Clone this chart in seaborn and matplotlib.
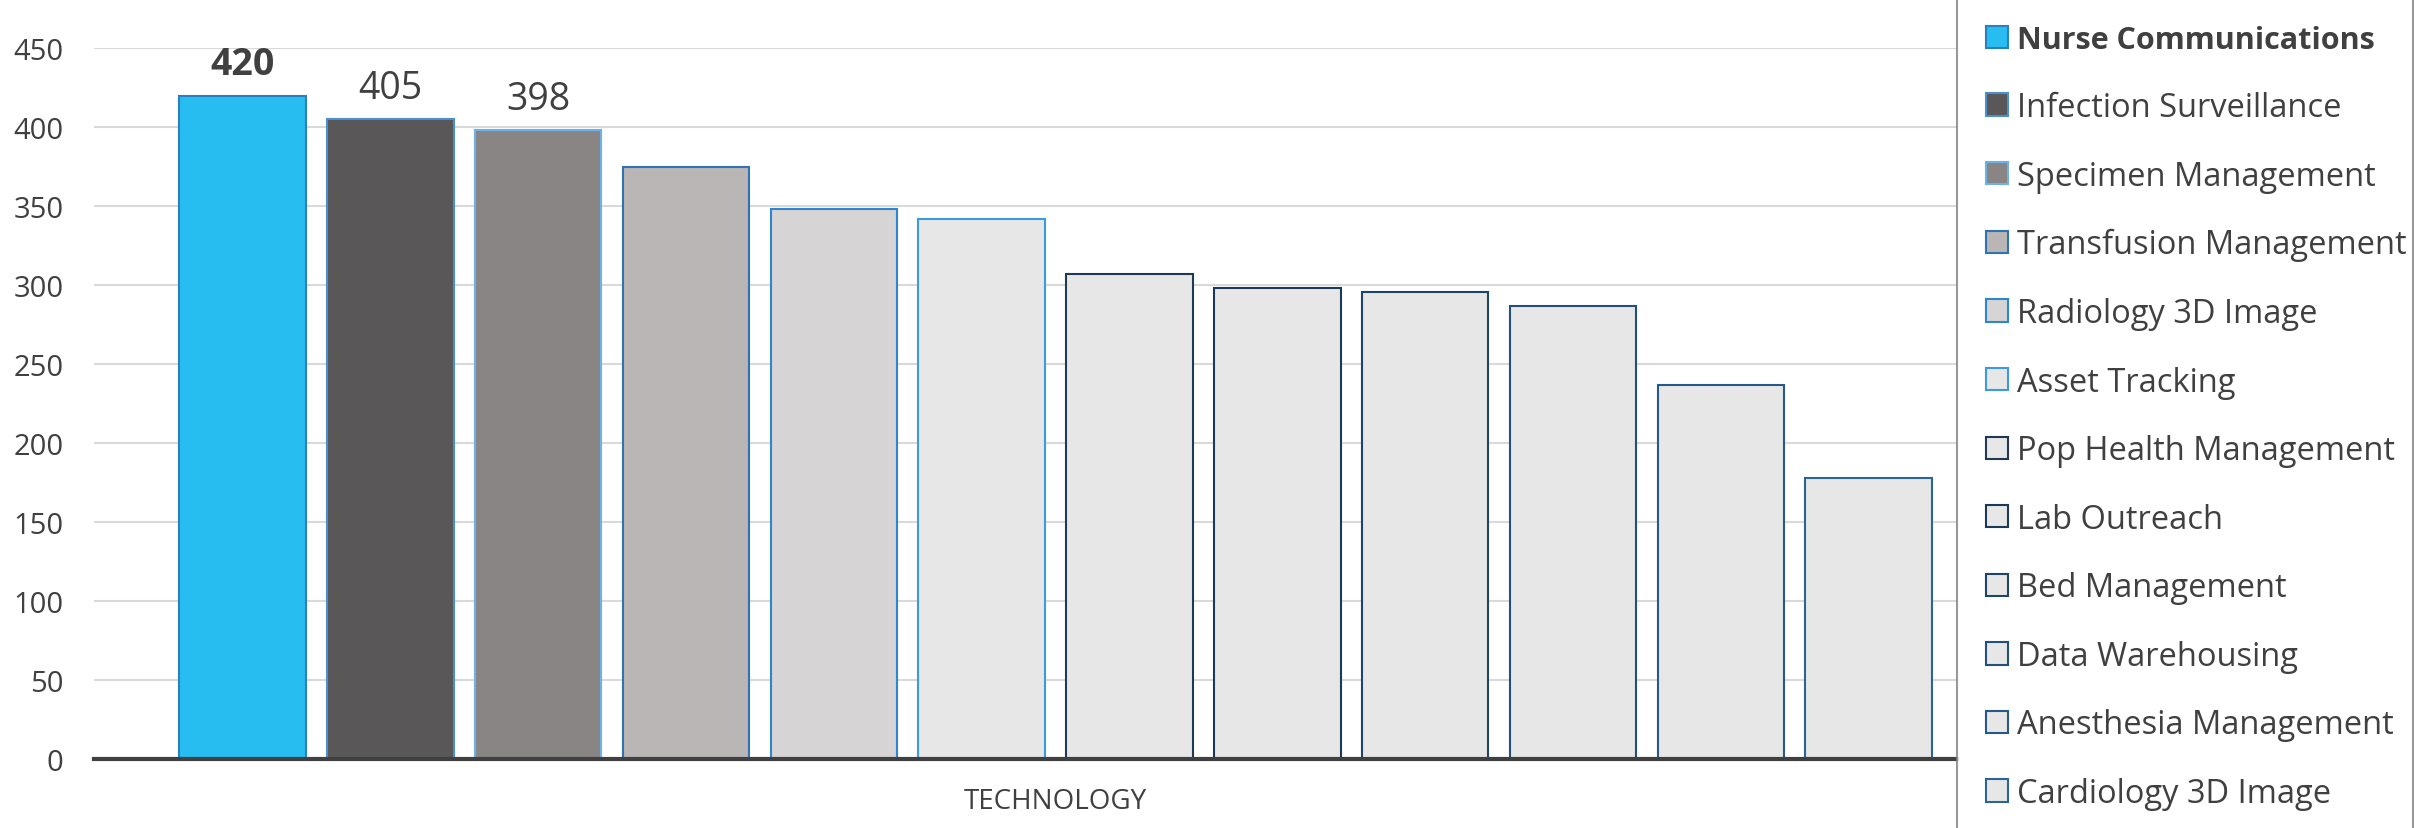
import seaborn as sns
import matplotlib.pyplot as plt
import pandas as pd

# values
technologies = ["Nurse Communications", "Infection Surveillance", "Specimen Management",
                "Transfusion Management", "Radiology 3D Image", "Asset Tracking",
                "Pop Health Management", "Lab Outreach", "Bed Management",
                "Data Warehousing", "Anesthesia Management", "Cardiology 3D Image"]
counts = [420, 405, 398, 375, 348, 342, 307, 298, 296, 287, 237, 178]
category = "TECHNOLOGY"
labelled = 3  # only the top three bars carry a value label

fills = ["#27BDF1", "#595757", "#898584", "#BAB6B5", "#D6D4D5", "#E7E7E7",
         "#E7E7E7", "#E7E7E7", "#E7E7E7", "#E7E7E7", "#E7E7E7", "#E7E7E7"]
edges = ["#2A7FC0", "#4A90D0", "#6CB2E8", "#2E74B5", "#2E86D0", "#3C9AE0",
         "#1F3A55", "#1C3A58", "#1F4466", "#23507A", "#27588A", "#2B6496"]

df = pd.DataFrame({"group": category, "technology": technologies, "count": counts})

sns.set_theme(style="white")
plt.rcParams['font.family'] = ['Open Sans', 'DejaVu Sans']
text_col = "#404040"

fig = plt.figure(figsize=(24.14, 8.29), dpi=100)
ax = fig.add_axes([0.0389, 0.0832, 0.8107 - 0.0389, 0.9405 - 0.0832])

sns.barplot(data=df, x="group", y="count", hue="technology", hue_order=technologies,
            palette=fills, width=0.8, gap=0.144, saturation=1, legend=False, ax=ax)

for cont, ec in zip(ax.containers, edges):
    for p in cont.patches:
        p.set_edgecolor(ec)
        p.set_linewidth(1.5)

for i, cont in enumerate(ax.containers[:labelled]):
    ax.bar_label(cont, padding=9, fontsize=27, color=text_col,
                 fontweight="bold" if i == 0 else "normal")

ax.set_ylim(0, 450)
ax.set_yticks(range(0, 451, 50))
ax.set_xlim(-0.4337, 0.4065)
ax.yaxis.grid(True, color="#D9D9D9", linewidth=1.5)
ax.set_axisbelow(True)
sns.despine(ax=ax, left=True)
ax.spines['bottom'].set_color(text_col)
ax.spines['bottom'].set_linewidth(3)
ax.tick_params(axis='y', length=0, pad=22, labelsize=21, labelcolor=text_col)
ax.tick_params(axis='x', length=0, pad=20, labelsize=20, labelcolor=text_col)
ax.set_xlabel("")
ax.set_ylabel("")

handles = [c.patches[0] for c in ax.containers]
leg = fig.legend(handles, technologies, loc="upper left",
                 bbox_to_anchor=(1957 / 2414, 1 - 6 / 829, 456 / 2414, 0.01),
                 mode="expand", fontsize=23.5, frameon=True, fancybox=False,
                 handlelength=0.67, handleheight=0.67, handletextpad=0.3,
                 labelspacing=1.09, borderpad=0.88, borderaxespad=0)
leg.get_frame().set_edgecolor("#7F7F7F")
leg.get_frame().set_linewidth(1.5)
for i, t in enumerate(leg.get_texts()):
    t.set_color(text_col)
    if i == 0:
        t.set_fontweight("bold")
        t.set_fontsize(22)

plt.savefig("out.png", dpi=100)
